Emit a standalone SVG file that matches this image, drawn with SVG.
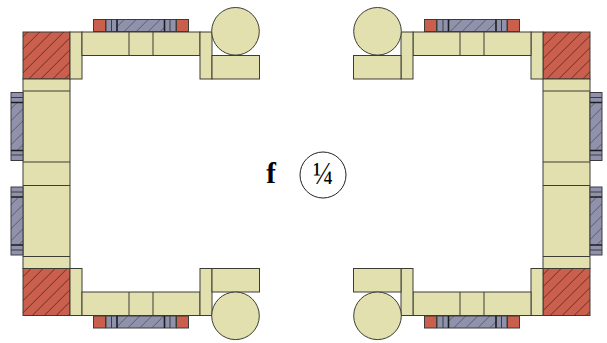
<svg xmlns="http://www.w3.org/2000/svg" width="607" height="343" viewBox="0 0 607 343">
<style>
.y{fill:#e3e0b0;stroke:#3c3c34;stroke-width:1}
.r{fill:#c95f4c;stroke:#3c3c34;stroke-width:1}
.g{fill:#9092ac;stroke:#3c3c40;stroke-width:1}
.h{stroke:#3c3c34;stroke-width:1;fill:none}
.k{stroke:#1c1c24;stroke-width:1.6;fill:none}
.f{font-family:"Liberation Serif",serif;fill:#000}
</style>
<defs>
<pattern id="hl" patternUnits="userSpaceOnUse" width="12" height="12" x="-0.3" y="0"><path d="M-3 15L15 -3M-3 3L3 -3M9 15L15 9" stroke="#2e2420" stroke-width="0.7" fill="none"/></pattern>
<pattern id="hr" patternUnits="userSpaceOnUse" width="12" height="12" x="1.7" y="0"><path d="M-3 15L15 -3M-3 3L3 -3M9 15L15 9" stroke="#2e2420" stroke-width="0.7" fill="none"/></pattern>
</defs>
<g id="red-blocks">
<rect class="r" x="23" y="32" width="47" height="47"/><rect x="23" y="32" width="47" height="47" fill="url(#hl)"/>
<rect class="r" x="23" y="268.5" width="47" height="47"/><rect x="23" y="268.5" width="47" height="47" fill="url(#hl)"/>
<rect class="r" x="543" y="32" width="47" height="47"/><rect x="543" y="32" width="47" height="47" fill="url(#hr)"/>
<rect class="r" x="543" y="268.5" width="47" height="47"/><rect x="543" y="268.5" width="47" height="47" fill="url(#hr)"/>
</g>
<g id="left-column">
<rect class="y" x="23" y="79" width="47" height="189.5"/>
<path class="h" d="M23 91H70M23 162H70M23 185.5H70M23 256.5H70"/>
</g>
<g id="right-column">
<rect class="y" x="543" y="79" width="47" height="189.5"/>
<path class="h" d="M543 91H590M543 162H590M543 185.5H590M543 256.5H590"/>
</g>
<g id="side-pads">
<rect class="g" x="11" y="92.5" width="12" height="68"/><rect x="11" y="103" width="12" height="47" fill="url(#hl)" opacity="0.7"/>
<path class="h" d="M11 97.5H23M11 155H23"/><path class="k" d="M11 102.5H23M11 150.5H23"/>
<rect class="g" x="11" y="187" width="12" height="68"/><rect x="11" y="197.500" width="12" height="47" fill="url(#hl)" opacity="0.7"/>
<path class="h" d="M11 192H23M11 250H23"/><path class="k" d="M11 197H23M11 245H23"/>
<rect class="g" x="590" y="92.5" width="12" height="68"/><rect x="590" y="103" width="12" height="47" fill="url(#hr)" opacity="0.7"/>
<path class="h" d="M590 97.5H602M590 155H602"/><path class="k" d="M590 102.5H602M590 150.5H602"/>
<rect class="g" x="590" y="187" width="12" height="68"/><rect x="590" y="197.500" width="12" height="47" fill="url(#hr)" opacity="0.7"/>
<path class="h" d="M590 192H602M590 250H602"/><path class="k" d="M590 197H602M590 245H602"/>
</g>
<g id="top-left">
<rect class="g" x="106" y="19.5" width="70" height="12"/><rect x="117" y="20" width="47" height="11.500" fill="url(#hl)" opacity="0.7"/>
<path class="h" d="M111.500 19.500V32M170 19.500V32"/><path class="k" d="M117 19.500V32M164.500 19.500V32"/>
<rect class="r" x="93.500" y="19.500" width="12" height="12"/><rect class="r" x="176.500" y="19.500" width="12" height="12"/>
<rect class="y" x="70" y="32" width="12" height="47"/>
<rect class="y" x="82" y="32" width="118" height="23.500"/><path class="h" d="M129 32V55.500M153 32V55.500"/>
<rect class="y" x="200" y="32" width="12" height="47"/><rect class="y" x="212" y="55.500" width="47.500" height="23.500"/>
<circle class="y" cx="235.500" cy="31.300" r="23.800"/>
</g>
<g id="bottom-left">
<rect class="g" x="106" y="316" width="70" height="12"/><rect x="117" y="316" width="47" height="11.500" fill="url(#hl)" opacity="0.7"/>
<path class="h" d="M111.500 315.500V328M170 315.500V328"/><path class="k" d="M117 315.500V328M164.500 315.500V328"/>
<rect class="r" x="93.500" y="316" width="12" height="12"/><rect class="r" x="176.500" y="316" width="12" height="12"/>
<rect class="y" x="70" y="268.500" width="12" height="47"/>
<rect class="y" x="82" y="292" width="118" height="23.500"/><path class="h" d="M129 292V315.500M153 292V315.500"/>
<rect class="y" x="200" y="268.500" width="12" height="47"/><rect class="y" x="212" y="268.500" width="47.500" height="23.500"/>
<circle class="y" cx="235.500" cy="315.800" r="23.800"/>
</g>
<g id="top-right">
<rect class="g" x="437" y="19.5" width="70" height="12"/><rect x="449" y="20" width="47" height="11.500" fill="url(#hr)" opacity="0.7"/>
<path class="h" d="M443 19.500V32M501.500 19.500V32"/><path class="k" d="M448.500 19.500V32M496 19.500V32"/>
<rect class="r" x="424.500" y="19.500" width="12" height="12"/><rect class="r" x="507.500" y="19.500" width="12" height="12"/>
<rect class="y" x="531" y="32" width="12" height="47"/>
<rect class="y" x="413" y="32" width="118" height="23.500"/><path class="h" d="M460 32V55.500M484 32V55.500"/>
<rect class="y" x="401" y="32" width="12" height="47"/><rect class="y" x="353.500" y="55.500" width="47.500" height="23.500"/>
<circle class="y" cx="377.500" cy="31.300" r="23.800"/>
</g>
<g id="bottom-right">
<rect class="g" x="437" y="316" width="70" height="12"/><rect x="449" y="316" width="47" height="11.500" fill="url(#hr)" opacity="0.7"/>
<path class="h" d="M443 315.500V328M501.500 315.500V328"/><path class="k" d="M448.500 315.500V328M496 315.500V328"/>
<rect class="r" x="424.500" y="316" width="12" height="12"/><rect class="r" x="507.500" y="316" width="12" height="12"/>
<rect class="y" x="531" y="268.500" width="12" height="47"/>
<rect class="y" x="413" y="292" width="118" height="23.500"/><path class="h" d="M460 292V315.500M484 292V315.500"/>
<rect class="y" x="401" y="268.500" width="12" height="47"/><rect class="y" x="353.500" y="268.500" width="47.500" height="23.500"/>
<circle class="y" cx="377.500" cy="315.800" r="23.800"/>
</g>
<g id="label">
<text class="f" x="271" y="183" font-size="29" font-weight="bold" text-anchor="middle">f</text>
<circle cx="323" cy="175" r="23" fill="#fff" stroke="#222" stroke-width="1"/>
<text class="f" transform="translate(323 184) scale(1.03 1.22)" x="0" y="0" font-size="26" text-anchor="middle">¼</text>
</g>
</svg>
